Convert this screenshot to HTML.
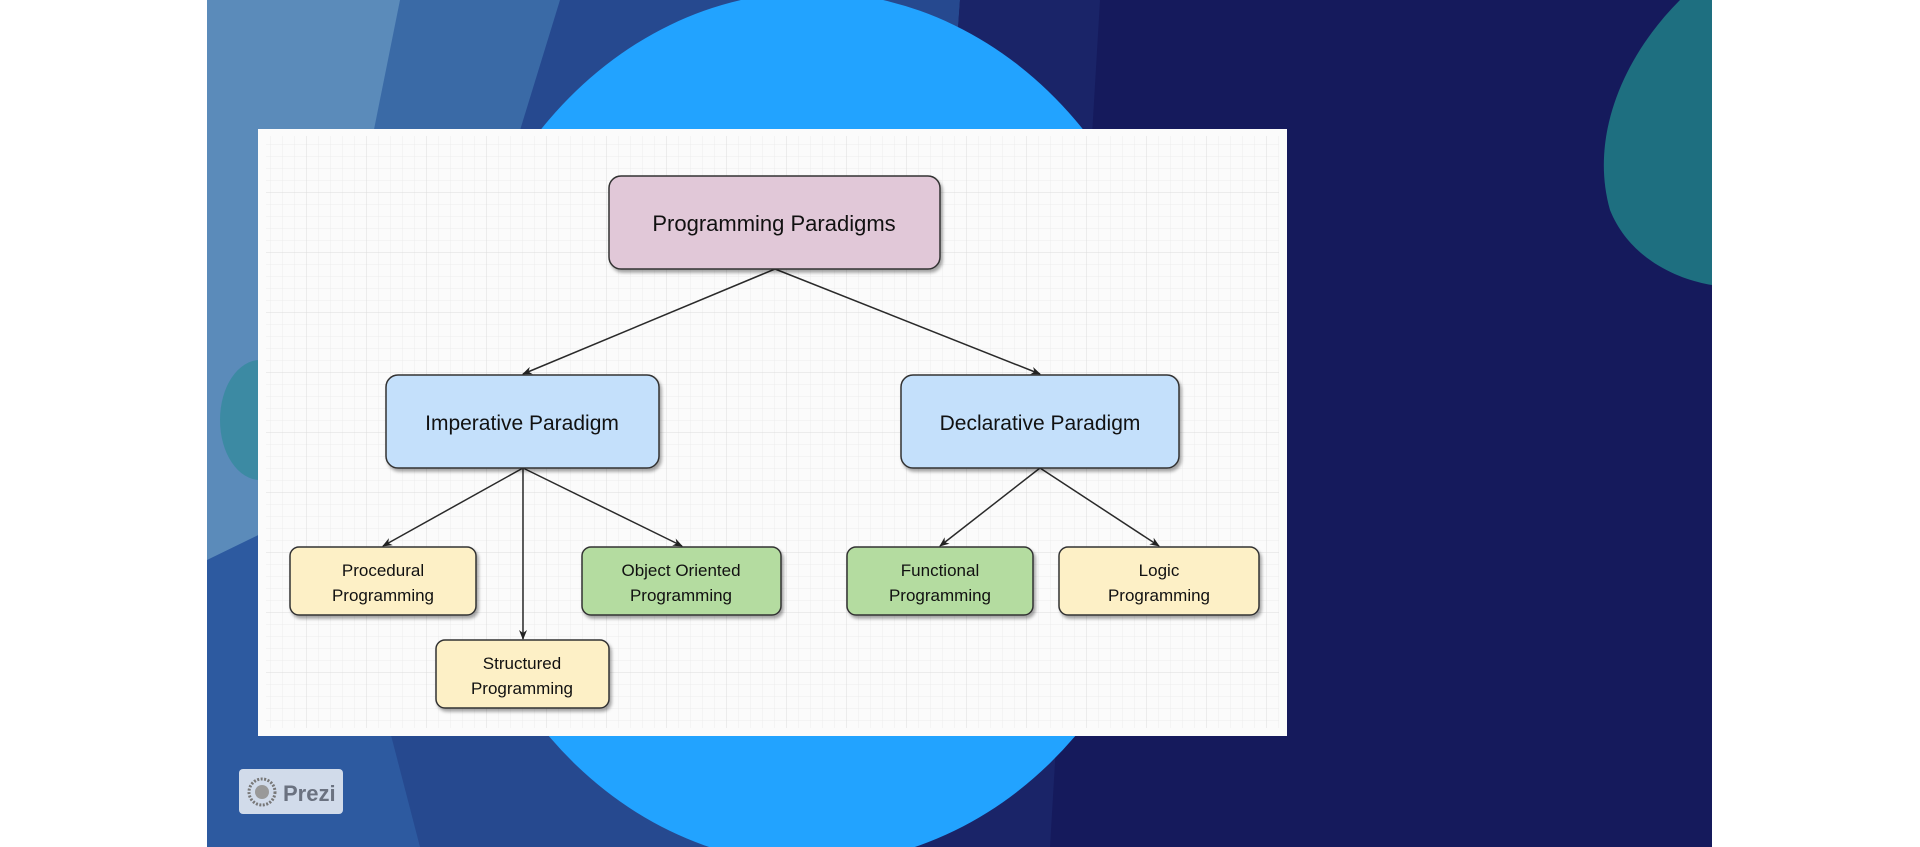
<!DOCTYPE html>
<html><head><meta charset="utf-8"><style>
html,body{margin:0;padding:0;width:1920px;height:847px;overflow:hidden;background:#fff}
svg{display:block}
text{font-family:"Liberation Sans",Arial,sans-serif;fill:#111}
</style></head><body>
<svg width="1920" height="847" viewBox="0 0 1920 847" xmlns="http://www.w3.org/2000/svg">
<defs>
<pattern id="gs" width="12" height="12" patternUnits="userSpaceOnUse"><path d="M12 0H0V12" fill="none" stroke="#ececec" stroke-width="1"/></pattern>
<pattern id="gl" width="60" height="60" patternUnits="userSpaceOnUse" x="6" y="12"><rect width="60" height="60" fill="url(#gs)"/><path d="M60 0H0V60" fill="none" stroke="#dcdcdc" stroke-width="1"/></pattern>
<marker id="ar" markerWidth="10" markerHeight="10" refX="9" refY="5" orient="auto" markerUnits="userSpaceOnUse"><path d="M0 1L10 5L0 9L3 5Z" fill="#222"/></marker>
<filter id="sh" x="-10%" y="-10%" width="130%" height="140%"><feDropShadow dx="2" dy="3" stdDeviation="1.5" flood-color="#000" flood-opacity="0.35"/></filter>
<clipPath id="bg"><rect x="207" y="0" width="1505" height="847"/></clipPath>
</defs>
<g clip-path="url(#bg)">
<rect x="207" y="0" width="1505" height="847" fill="#151a5c"/>
<polygon points="207,0 960,0 900,847 207,847" fill="#26498f"/>
<polygon points="207,0 560,0 300,847 207,847" fill="#3a6aa6"/>
<polygon points="207,0 400,0 230,847 207,847" fill="#5b8bba"/>
<polygon points="207,560 330,500 420,847 207,847" fill="#2d5aa0"/>
<ellipse cx="260" cy="420" rx="40" ry="60" fill="#2f8a9a" opacity="0.7"/>
<polygon points="960,0 1100,0 1050,847 900,847" fill="#1a2468"/>
<path d="M1712 0 L1680 0 C1620 60 1590 140 1610 210 C1630 260 1680 280 1712 285 Z" fill="#1e6f80"/>
<ellipse cx="812" cy="428" rx="372" ry="436" fill="#22a3ff"/>
</g>
<rect x="258" y="129" width="1029" height="607" fill="#fbfbfb"/>
<rect x="266" y="136" width="1013" height="592" fill="url(#gl)"/>
<g stroke="#2a2a2a" stroke-width="1.5" fill="none" marker-end="url(#ar)">
<line x1="775" y1="269" x2="523" y2="374"/>
<line x1="775" y1="269" x2="1040" y2="374"/>
<line x1="523" y1="468" x2="383" y2="546"/>
<line x1="523" y1="468" x2="523" y2="639"/>
<line x1="523" y1="468" x2="682" y2="546"/>
<line x1="1040" y1="468" x2="940" y2="546"/>
<line x1="1040" y1="468" x2="1159" y2="546"/>
</g>
<g stroke="#333" stroke-width="1.5" filter="url(#sh)">
<rect x="609" y="176" width="331" height="93" rx="12" fill="#e1c8d8"/>
<rect x="386" y="375" width="273" height="93" rx="12" fill="#c4e0fb"/>
<rect x="901" y="375" width="278" height="93" rx="12" fill="#c4e0fb"/>
<rect x="290" y="547" width="186" height="68" rx="9" fill="#fdf0c6"/>
<rect x="436" y="640" width="173" height="68" rx="9" fill="#fdf0c6"/>
<rect x="582" y="547" width="199" height="68" rx="9" fill="#b4dca0"/>
<rect x="847" y="547" width="186" height="68" rx="9" fill="#b4dca0"/>
<rect x="1059" y="547" width="200" height="68" rx="9" fill="#fdf0c6"/>
</g>
<g text-anchor="middle">
<text x="774" y="231" font-size="22">Programming Paradigms</text>
<text x="522" y="430" font-size="21">Imperative Paradigm</text>
<text x="1040" y="430" font-size="21">Declarative Paradigm</text>
<g font-size="17">
<text x="383" y="576">Procedural</text><text x="383" y="601">Programming</text>
<text x="522" y="669">Structured</text><text x="522" y="694">Programming</text>
<text x="681" y="576">Object Oriented</text><text x="681" y="601">Programming</text>
<text x="940" y="576">Functional</text><text x="940" y="601">Programming</text>
<text x="1159" y="576">Logic</text><text x="1159" y="601">Programming</text>
</g>
</g>
<rect x="239" y="769" width="104" height="45" rx="4" fill="#dfe6f0" opacity="0.92"/>
<circle cx="262" cy="792" r="13" fill="none" stroke="#777" stroke-width="3" stroke-dasharray="2 1.5"/>
<circle cx="262" cy="792" r="7" fill="#999"/>
<text x="283" y="801" font-size="22" font-weight="bold" style="fill:#6b7280">Prezi</text>
</svg>
</body></html>
